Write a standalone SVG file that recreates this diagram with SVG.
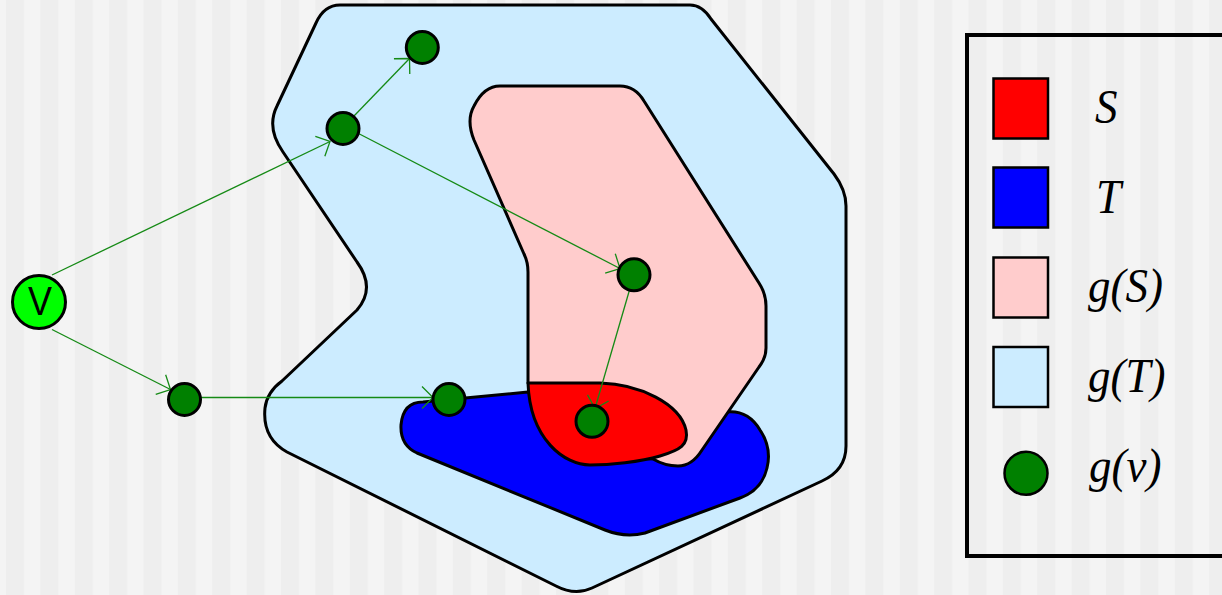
<svg xmlns="http://www.w3.org/2000/svg" width="1222" height="595" viewBox="0 0 1222 595">
<style>
.outline{stroke:#000;stroke-width:3;stroke-linejoin:round}
.node{fill:#008000;stroke:#000;stroke-width:3}
.edge{fill:none;stroke:#158a15;stroke-width:1.3;marker-end:url(#arr)}
.lbl{font-family:"Liberation Serif","Times New Roman",serif;font-style:italic;font-size:45px;fill:#000}
.sw{stroke:#000;stroke-width:2.5}
</style>
<defs>
<pattern id="bg" patternUnits="userSpaceOnUse" x="6" y="0" width="34.375" height="10">
<rect x="0" y="0" width="34.375" height="10" fill="#f4f4f4"/>
<rect x="0" y="0" width="18" height="10" fill="#eeeeee"/>
</pattern>
<marker id="arr" markerUnits="userSpaceOnUse" markerWidth="30" markerHeight="30" refX="0" refY="0" viewBox="-15 -15 30 30" orient="auto" overflow="visible">
<path d="M -11,-11 L 0,0 L -11,11" fill="none" stroke="#158a15" stroke-width="1.3"/>
</marker>
</defs>
<rect x="0" y="0" width="1222" height="595" fill="url(#bg)"/>

<g id="gT">
<path class="outline" fill="#CCECFF" d="M 340,5 L 690,5 Q 702,5 711,19 L 834,174 Q 846,190 846,206 L 846,446 Q 846,470 822,481 L 592,588 Q 575,596 556,586 L 287,452 Q 262,438 265,408 Q 267,392 282,381 L 357,310 Q 376,288 357,262 L 283,152 Q 266,128 277,106 L 316,23 Q 324,5 340,5 Z"/>
</g>

<g id="T">
<path class="outline" fill="#0000FF" d="M 423,402 L 528,392 L 727,412 Q 748,410 760,430 Q 772,448 767,468 Q 762,490 740,498 L 645,533 Q 625,538 605,530 L 417,453 Q 400,445 401,425 Q 403,402 423,402 Z"/>
</g>

<g id="gS">
<path class="outline" fill="#FFCCCC" d="M 500,86 L 620,86 Q 635,86 644,101 L 759,283 Q 766,294 766,306 L 766,348 Q 766,358 759,367 L 702,450 Q 692,466 678,466 Q 665,466 653,459 L 600,455 L 528,383 L 528,272 Q 528,262 524,254 L 474,140 Q 466,120 474,106 Q 484,86 500,86 Z"/>
</g>

<g id="S">
<path class="outline" fill="#FF0000" d="M 528,383 L 600,383 C 640,384 680,404 686,430 C 689,445 680,450 660,456 C 640,462 610,465 590,465 C 565,465 530,440 528,383 Z"/>
</g>

<g id="connectors">
<line class="edge" x1="52" y1="275" x2="330" y2="141.5"/>
<line class="edge" x1="52" y1="329.5" x2="170.5" y2="389.5"/>
<line class="edge" x1="353.5" y1="116.5" x2="409.5" y2="58.5"/>
<line class="edge" x1="358.5" y1="133.5" x2="620" y2="268.5"/>
<line class="edge" x1="629.5" y1="290" x2="595" y2="408.5"/>
<line class="edge" x1="201" y1="397.5" x2="433" y2="397.5"/>
</g>

<g id="v">
<circle cx="39" cy="302" r="26.5" fill="#00FF00" stroke="#000" stroke-width="3"/>
<text transform="translate(40,315) scale(1,1.12)" text-anchor="middle" font-family="Liberation Sans, Arial, sans-serif" font-size="36" fill="#000">V</text>
</g>
<g id="n1"><circle class="node" cx="184.5" cy="399.5" r="16"/></g>
<g id="n2"><circle class="node" cx="343" cy="128.5" r="16"/></g>
<g id="n3"><circle class="node" cx="422.3" cy="47.5" r="16"/></g>
<g id="n4"><circle class="node" cx="634" cy="274.8" r="16"/></g>
<g id="n5"><circle class="node" cx="449" cy="399.5" r="16"/></g>
<g id="n6"><circle class="node" cx="592" cy="421.3" r="16"/></g>

<g id="legend">
<rect x="967" y="35" width="270" height="521" fill="none" stroke="#000" stroke-width="4"/>
<rect class="sw" x="993.5" y="78.5" width="54.5" height="60" fill="#FF0000"/>
<rect class="sw" x="993.5" y="167.5" width="54.5" height="60" fill="#0000FF"/>
<rect class="sw" x="993.5" y="257.5" width="54.5" height="60" fill="#FFCCCC"/>
<rect class="sw" x="993.5" y="347" width="54.5" height="60" fill="#CCECFF"/>
<circle cx="1026" cy="473.3" r="21.5" fill="#008000" stroke="#000" stroke-width="2.5"/>
<text class="lbl" transform="translate(1095,123) scale(1,1.1)">S</text>
<text class="lbl" transform="translate(1096,213) scale(1,1.1)">T</text>
<text class="lbl" transform="translate(1088,302) scale(1,1.1)">g(S)</text>
<text class="lbl" transform="translate(1088,392) scale(1,1.1)">g(T)</text>
<text class="lbl" transform="translate(1089,482) scale(1,1.1)">g(v)</text>
</g>
</svg>
